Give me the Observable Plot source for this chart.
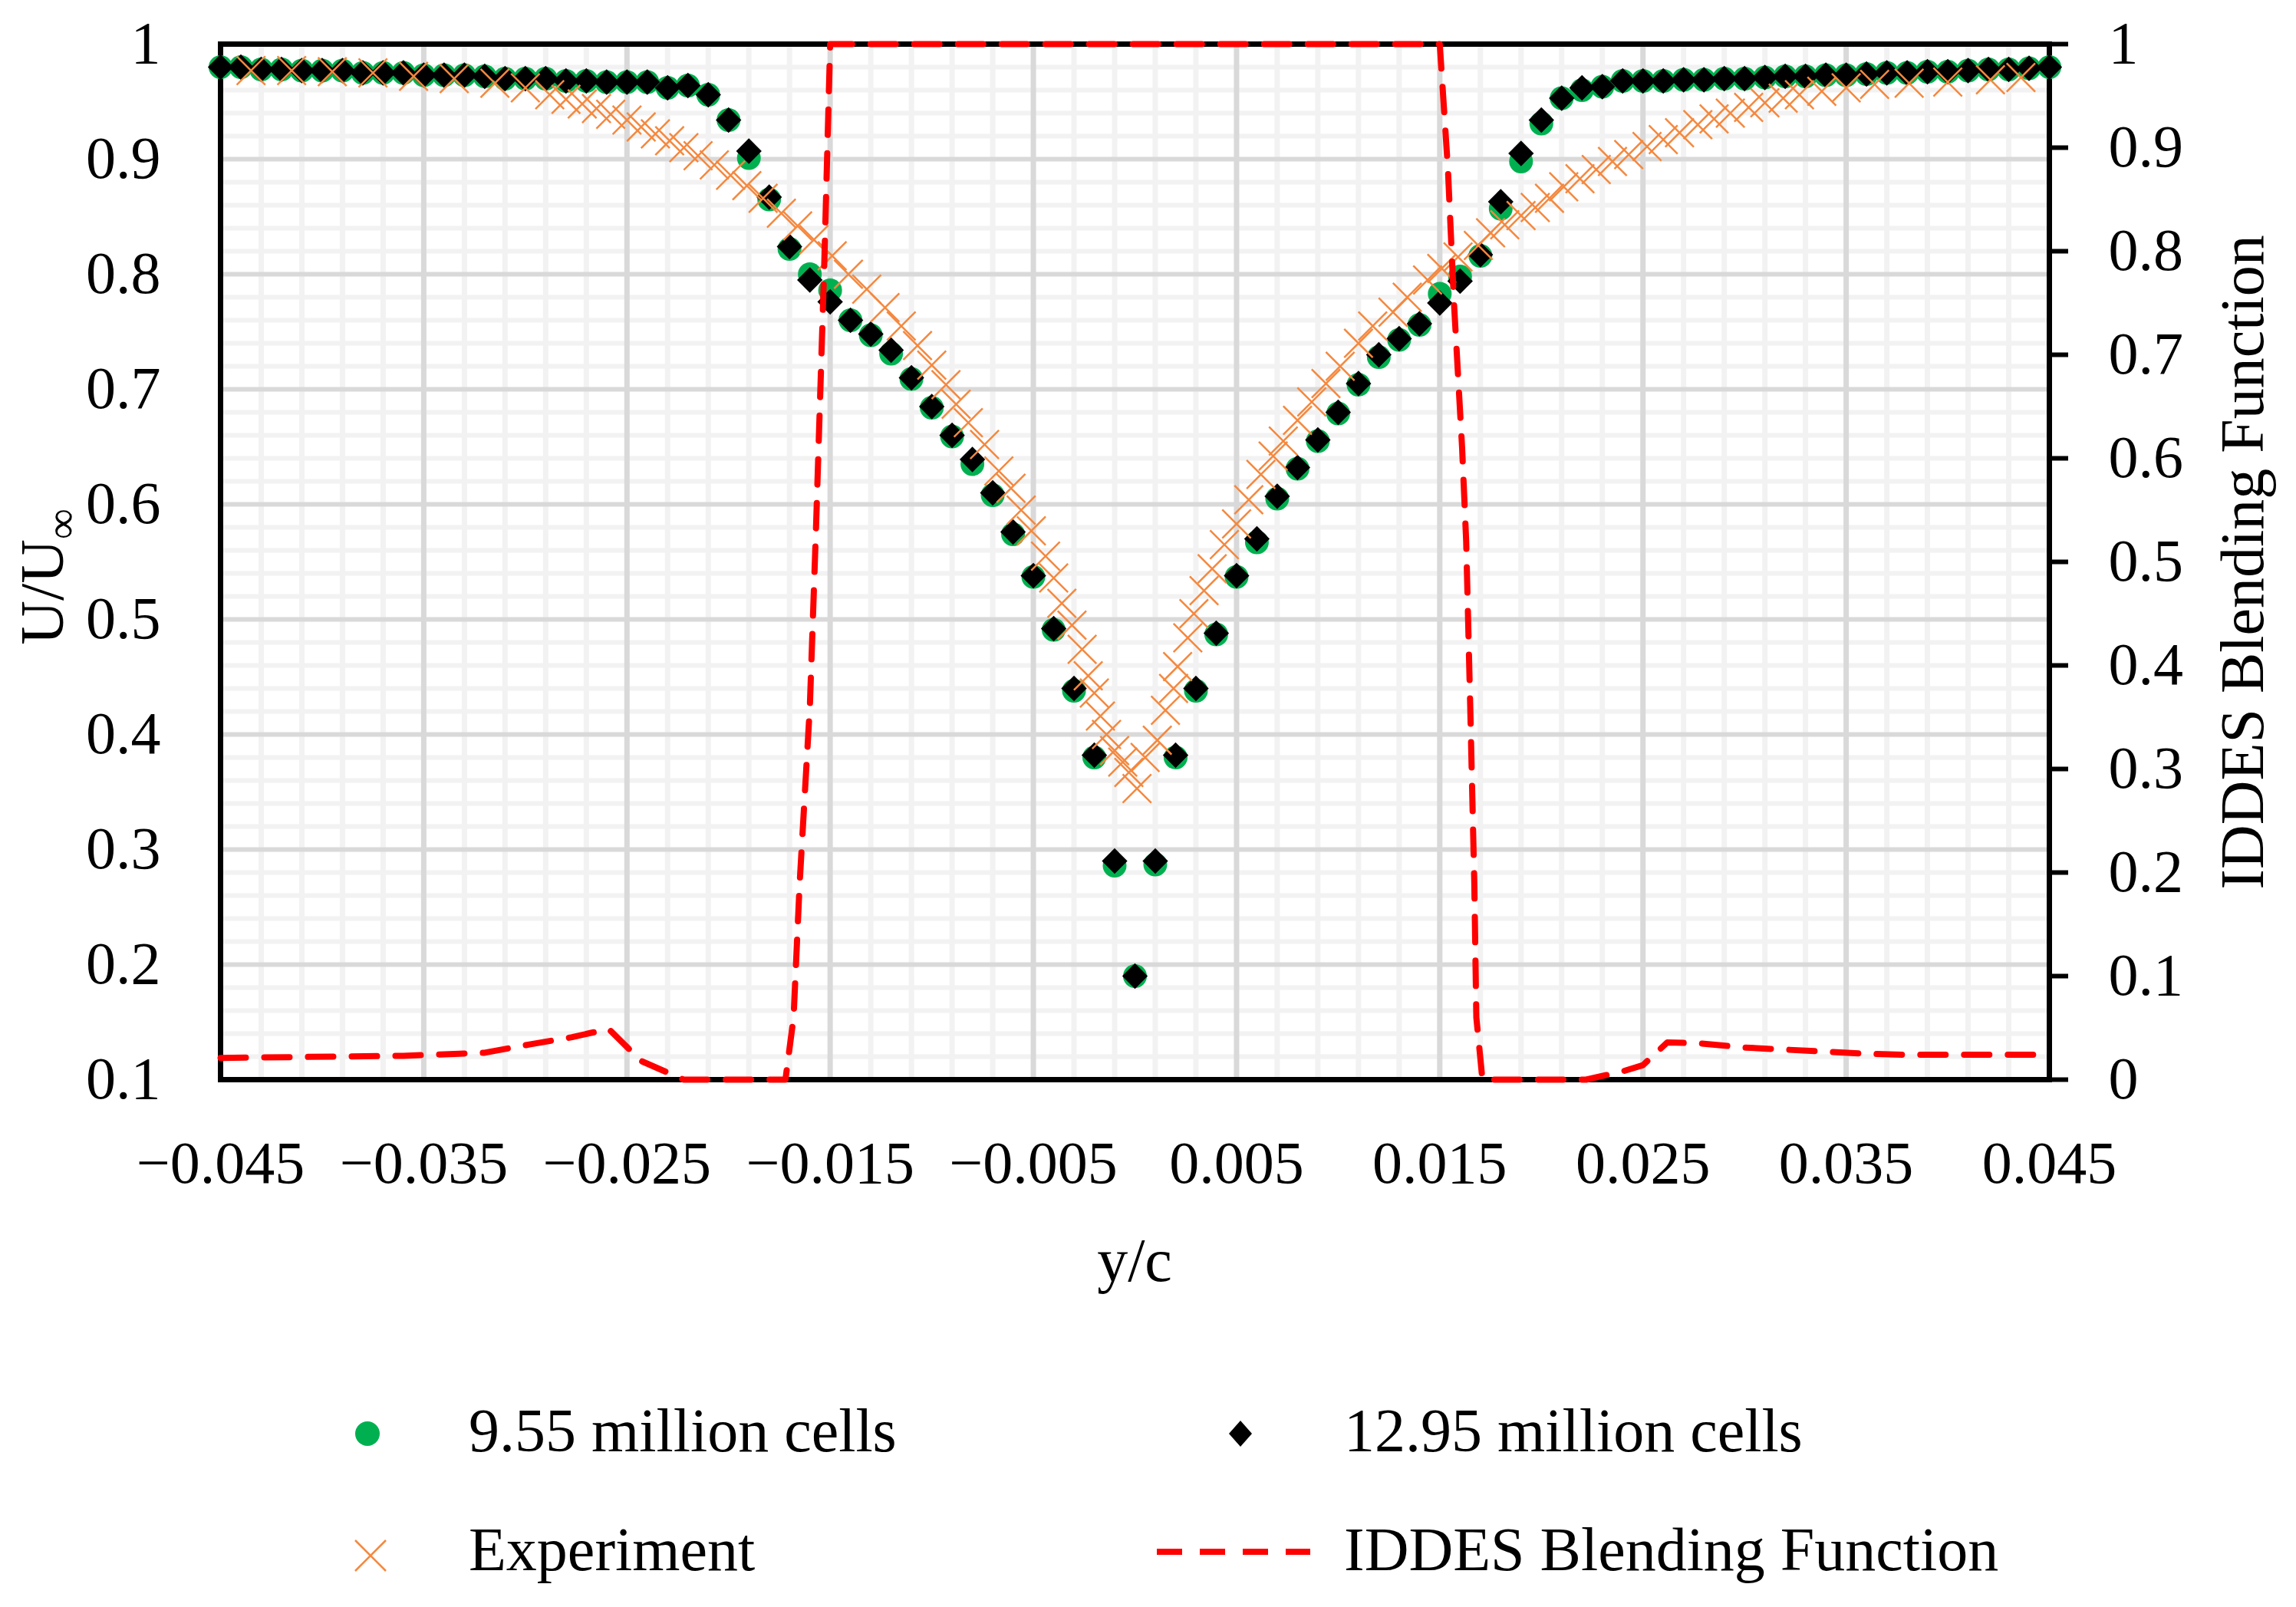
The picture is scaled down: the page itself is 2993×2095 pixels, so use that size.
<!DOCTYPE html>
<html>
<head>
<meta charset="utf-8">
<script src="https://cdn.jsdelivr.net/npm/d3@7"></script>
<script src="https://cdn.jsdelivr.net/npm/@observablehq/plot@0.6"></script>
<style>
html, body { margin: 0; padding: 0; background: #fff; }
#wrap { width: 2993px; height: 2095px; overflow: hidden; background: #fff; }
#chart svg, #legend svg { display: block; }
</style>
</head>
<body>
<div id="wrap"><div id="chart"></div><div id="legend"></div></div>
<script>
// ---------- data ----------
const cellX = [-0.045,-0.044,-0.043,-0.042,-0.041,-0.040,-0.039,-0.038,-0.037,-0.036,
  -0.035,-0.034,-0.033,-0.032,-0.031,-0.030,-0.029,-0.028,-0.027,-0.026,
  -0.025,-0.024,-0.023,-0.022,-0.021,-0.020,-0.019,-0.018,-0.017,-0.016,
  -0.015,-0.014,-0.013,-0.012,-0.011,-0.010,-0.009,-0.008,-0.007,-0.006,
  -0.005,-0.004,-0.003,-0.002,-0.001,0.000,0.001,0.002,0.003,0.004,
  0.005,0.006,0.007,0.008,0.009,0.010,0.011,0.012,0.013,0.014,
  0.015,0.016,0.017,0.018,0.019,0.020,0.021,0.022,0.023,0.024,
  0.025,0.026,0.027,0.028,0.029,0.030,0.031,0.032,0.033,0.034,
  0.035,0.036,0.037,0.038,0.039,0.040,0.041,0.042,0.043,0.044,0.045];

const cells955 = [0.980,0.980,0.978,0.978,0.977,0.977,0.977,0.975,0.975,0.975,
  0.973,0.973,0.973,0.972,0.970,0.970,0.970,0.968,0.968,0.967,
  0.967,0.967,0.962,0.964,0.956,0.934,0.901,0.865,0.822,0.800,
  0.786,0.760,0.747,0.731,0.709,0.684,0.659,0.635,0.608,0.574,
  0.537,0.491,0.438,0.380,0.286,0.190,0.287,0.380,0.438,0.487,
  0.537,0.567,0.605,0.631,0.655,0.679,0.704,0.728,0.743,0.756,
  0.783,0.798,0.816,0.857,0.898,0.931,0.953,0.960,0.963,0.968,
  0.968,0.968,0.969,0.969,0.970,0.970,0.971,0.972,0.972,0.973,
  0.973,0.974,0.975,0.975,0.976,0.976,0.977,0.978,0.978,0.979,0.980];

const cells1295 = [0.980,0.980,0.978,0.978,0.977,0.977,0.977,0.975,0.975,0.975,
  0.973,0.973,0.973,0.972,0.970,0.970,0.970,0.968,0.968,0.967,
  0.967,0.967,0.962,0.964,0.956,0.934,0.907,0.867,0.824,0.795,
  0.776,0.760,0.748,0.734,0.710,0.685,0.660,0.639,0.610,0.576,
  0.538,0.492,0.440,0.382,0.290,0.190,0.290,0.382,0.440,0.488,
  0.538,0.570,0.607,0.632,0.656,0.680,0.705,0.730,0.744,0.757,
  0.775,0.794,0.817,0.863,0.905,0.934,0.953,0.962,0.963,0.968,
  0.968,0.968,0.969,0.969,0.970,0.970,0.971,0.972,0.972,0.973,
  0.973,0.974,0.975,0.975,0.976,0.976,0.977,0.978,0.978,0.979,0.980];

const expX = [-0.0435,-0.0415,-0.0395,-0.0375,-0.0355,-0.0335,-0.0315,-0.0300,-0.0288,-0.0280,
  -0.0272,-0.0265,-0.0258,-0.0250,-0.0243,-0.0236,-0.0229,-0.0222,-0.0215,-0.0207,
  -0.0199,-0.0191,-0.0183,-0.0174,-0.0166,-0.0158,-0.0149,-0.0141,-0.0132,-0.0123,
  -0.0115,-0.0107,-0.0100,-0.0093,-0.0088,-0.0082,-0.0074,-0.0067,-0.0061,-0.0056,
  -0.0051,-0.0044,-0.0040,-0.0036,-0.0031,-0.0026,-0.0023,-0.0020,-0.0017,-0.0014,
  -0.0010,-0.0006,-0.0003,0.0001,0.0005,0.0011,0.0015,0.0019,0.0021,0.0026,
  0.0029,0.0034,0.0038,0.0044,0.0050,0.0056,0.0062,0.0068,0.0073,0.0080,
  0.0087,0.0094,0.0101,0.0110,0.0117,0.0127,0.0134,0.0144,0.0151,0.0159,
  0.0169,0.0175,0.0182,0.0190,0.0197,0.0204,0.0211,0.0219,0.0227,0.0235,
  0.0243,0.0252,0.0260,0.0268,0.0277,0.0285,0.0293,0.0302,0.0310,0.0319,
  0.0327,0.0338,0.0350,0.0364,0.0381,0.0400,0.0421,0.0436];

const expU = [0.977,0.977,0.976,0.975,0.972,0.970,0.966,0.962,0.956,0.952,
  0.948,0.944,0.939,0.934,0.928,0.922,0.916,0.910,0.903,0.895,
  0.886,0.877,0.866,0.853,0.842,0.830,0.816,0.800,0.787,0.771,
  0.755,0.738,0.721,0.704,0.687,0.671,0.652,0.629,0.614,0.595,
  0.577,0.555,0.536,0.514,0.495,0.474,0.451,0.436,0.416,0.400,
  0.386,0.376,0.367,0.353,0.380,0.395,0.421,0.440,0.459,0.484,
  0.505,0.525,0.544,0.565,0.583,0.604,0.626,0.642,0.655,0.673,
  0.689,0.705,0.720,0.740,0.755,0.767,0.780,0.795,0.805,0.815,
  0.825,0.836,0.843,0.851,0.858,0.866,0.876,0.883,0.891,0.898,
  0.904,0.911,0.917,0.923,0.930,0.935,0.940,0.945,0.949,0.953,
  0.956,0.959,0.962,0.965,0.966,0.967,0.969,0.971];

const blendX = [-0.0450,-0.0360,-0.0320,-0.0298,-0.0277,-0.0259,-0.0243,-0.0222,-0.0172,-0.0168,
  -0.0165,-0.0160,-0.0157,-0.0153,-0.0150,0.0150,0.0154,0.0157,0.0161,0.0163,
  0.0165,0.0167,0.0168,0.0171,0.0222,0.0240,0.0250,0.0262,0.0278,0.0300,
  0.0320,0.0340,0.0360,0.0380,0.0450];
const blendF = [0.021,0.023,0.026,0.034,0.041,0.049,0.018,0.000,0.000,0.060,
  0.190,0.360,0.530,0.780,1.000,1.000,0.880,0.750,0.610,0.520,
  0.360,0.190,0.060,0.000,0.000,0.008,0.014,0.036,0.035,0.031,
  0.029,0.027,0.025,0.024,0.024];

// ticks & labels
const xTickValues = [-0.045,-0.035,-0.025,-0.015,-0.005,0.005,0.015,0.025,0.035,0.045];
const xTickLabels = ["\u22120.045","\u22120.035","\u22120.025","\u22120.015","\u22120.005","0.005","0.015","0.025","0.035","0.045"];
const leftTickValues = [0.1,0.2,0.3,0.4,0.5,0.6,0.7,0.8,0.9,1.0];
const leftTickLabels = ["0.1","0.2","0.3","0.4","0.5","0.6","0.7","0.8","0.9","1"];
const rightTickValues = [0,0.1,0.2,0.3,0.4,0.5,0.6,0.7,0.8,0.9,1.0];
const rightTickLabels = ["0","0.1","0.2","0.3","0.4","0.5","0.6","0.7","0.8","0.9","1"];

const xTitle = "y/c";
const yTitleMain = "U/U";
const yTitleSub = "\u221E";
const y2Title = "IDDES Blending Function";
const seriesNames = ["9.55 million cells","12.95 million cells","Experiment","IDDES Blending Function"];

// ---------- tables ----------
const toY = b => 0.1 + 0.9 * b;   // right axis (0..1) shares pixel range with left (0.1..1)
const sim955 = cellX.map((x, i) => ({x, u: cells955[i]}));
const sim1295 = cellX.map((x, i) => ({x, u: cells1295[i]}));
const exper = expX.map((x, i) => ({x, u: expU[i]}));
const blend = blendX.map((x, i) => ({x, f: blendF[i]}));
const rightTickPos = rightTickValues.map(toY);

const minorX = d3.range(1, 45).filter(k => k % 5 !== 0).map(k => -0.045 + 0.002 * k);
const minorY = d3.range(1, 45).filter(k => k % 5 !== 0).map(k => 0.1 + 0.02 * k);

const FONT = "'Liberation Serif', 'Times New Roman', serif";

const chart = Plot.plot({
  width: 2993,
  height: 1730,
  marginLeft: 287,
  marginRight: 322,
  marginTop: 57,
  marginBottom: 323,
  x: {domain: [-0.045, 0.045], label: null},
  y: {domain: [0.1, 1], label: null},
  style: {fontFamily: FONT, fontSize: "78px", color: "#000", background: "#fff", overflow: "visible"},
  marks: [
    Plot.ruleX(minorX, {stroke: "#F2F2F2", strokeWidth: 7}),
    Plot.ruleY(minorY, {stroke: "#F2F2F2", strokeWidth: 6}),
    Plot.ruleX(xTickValues, {stroke: "#D9D9D9", strokeWidth: 7}),
    Plot.ruleY(leftTickValues, {stroke: "#D9D9D9", strokeWidth: 6}),
    Plot.frame({stroke: "#000", strokeWidth: 7}),
    Plot.dot(sim955, {x: "x", y: "u", r: 15.5, fill: "#00B050", stroke: "none", symbol: "circle"}),
    Plot.dot(sim1295, {x: "x", y: "u", r: 15, fill: "#000", stroke: "none", symbol: "diamond2"}),
    Plot.dot(exper, {x: "x", y: "u", r: 17, symbol: "times", fill: "none", stroke: "#F5883E", strokeWidth: 2.5}),
    Plot.line(blend, {x: "x", y: d => toY(d.f), stroke: "#FF0000", strokeWidth: 8, strokeDasharray: "33,24"}),
    Plot.axisX(xTickValues, {anchor: "bottom", tickSize: 0, tickPadding: 79, fontSize: 78, label: null,
      tickFormat: d => xTickLabels[xTickValues.indexOf(d)]}),
    Plot.axisY(leftTickValues, {anchor: "left", tickSize: 0, tickPadding: 78, fontSize: 78, label: null,
      tickFormat: d => leftTickLabels[leftTickValues.indexOf(d)]}),
    Plot.axisY(rightTickPos, {anchor: "right", tickSize: 24, tickPadding: 53, strokeWidth: 6, fontSize: 78, label: null,
      tickFormat: d => rightTickLabels[rightTickPos.indexOf(d)]})
  ]
});

document.getElementById("chart").appendChild(chart);

// axis titles
const svg = d3.select(chart);
svg.append("text").attr("x", 1479).attr("y", 1670).attr("text-anchor", "middle")
  .attr("font-size", 80).attr("font-family", FONT).attr("fill", "#000").text(xTitle);
const yl = svg.append("text").attr("transform", "translate(82,752) rotate(-90)")
  .attr("text-anchor", "middle").attr("font-size", 80).attr("font-family", FONT).attr("fill", "#000");
yl.append("tspan").text(yTitleMain);
yl.append("tspan").attr("font-size", 56).attr("dy", 17).text(yTitleSub);
svg.append("text").attr("transform", "translate(2950,733) rotate(-90)")
  .attr("text-anchor", "middle").attr("font-size", 80).attr("font-family", FONT).attr("fill", "#000").text(y2Title);

// legend (below the chart)
const lg = d3.select("#legend").append("svg").attr("width", 2993).attr("height", 365)
  .style("font-family", FONT);
lg.append("circle").attr("cx", 479).attr("cy", 139).attr("r", 16).attr("fill", "#00B050");
lg.append("text").attr("x", 611).attr("y", 162).attr("font-size", 80).text(seriesNames[0]);
lg.append("path").attr("d", "M1617,122L1632,139L1617,156L1602,139Z").attr("fill", "#000");
lg.append("text").attr("x", 1752).attr("y", 162).attr("font-size", 80).text(seriesNames[1]);
lg.append("path").attr("d", "M463,278L503,318M463,318L503,278").attr("stroke", "#F5883E").attr("stroke-width", 2.5).attr("fill", "none");
lg.append("text").attr("x", 611).attr("y", 317).attr("font-size", 80).text(seriesNames[2]);
lg.append("line").attr("x1", 1508).attr("x2", 1708).attr("y1", 293).attr("y2", 293)
  .attr("stroke", "#FF0000").attr("stroke-width", 8).attr("stroke-dasharray", "33,23");
lg.append("text").attr("x", 1752).attr("y", 317).attr("font-size", 80).text(seriesNames[3]);
</script>
</body>
</html>
